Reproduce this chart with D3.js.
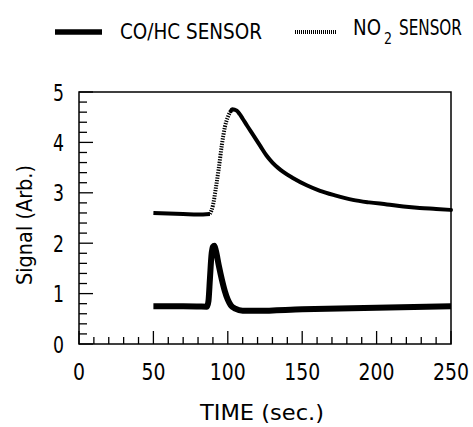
<!DOCTYPE html>
<html><head><meta charset="utf-8">
<script src="https://cdn.jsdelivr.net/npm/d3@7"></script>
<style>
body{margin:0;background:#fff;}
text{font-family:"DejaVu Sans Condensed","DejaVu Sans",sans-serif;font-stretch:condensed;fill:#000;}
</style></head>
<body><svg id="c" width="473" height="427"></svg>
<script>
const xTicks = [0, 50, 100, 150, 200, 250];
const yTicks = [0, 1, 2, 3, 4, 5];
const coHcTime  = [50, 60, 70, 80, 86, 87, 88, 89, 90, 91, 92, 94, 96, 98, 100, 102, 105, 110, 120, 150, 200, 250];
const coHcValue = [0.75, 0.75, 0.75, 0.745, 0.74, 0.85, 1.3, 1.75, 1.93, 1.95, 1.85, 1.55, 1.28, 1.05, 0.88, 0.77, 0.7, 0.66, 0.66, 0.69, 0.72, 0.75];
const no2BaseTime  = [50, 60, 70, 80, 88];
const no2BaseValue = [2.6, 2.59, 2.58, 2.57, 2.58];
const no2RiseTime  = [88, 90, 92, 94, 96, 98, 100, 102, 104];
const no2RiseValue = [2.58, 2.75, 3.1, 3.5, 3.95, 4.3, 4.5, 4.62, 4.66];
const no2DecayTime  = [102, 103, 106, 108, 110, 113, 117, 122, 126, 130, 134, 137, 144, 153, 162, 172, 184, 195, 207, 218, 229, 240, 250];
const no2DecayValue = [4.62, 4.66, 4.63, 4.56, 4.47, 4.33, 4.15, 3.92, 3.74, 3.6, 3.49, 3.42, 3.29, 3.15, 3.04, 2.95, 2.86, 2.81, 2.77, 2.73, 2.70, 2.68, 2.66];

const svg = d3.select("#c");
const L = 79, R = 451, T = 92, B = 344;
const x = d3.scaleLinear().domain([0, 250]).range([L, R]);
const y = d3.scaleLinear().domain([0, 5]).range([B, T]);

// frame
svg.append("rect").attr("x", L).attr("y", T).attr("width", R - L).attr("height", B - T)
  .attr("fill", "none").attr("stroke", "#000").attr("stroke-width", 1.5);

// ticks (inward), drawn from the scales
const xMinor = d3.range(0, 251, 10);
const yMinor = d3.range(0, 26).map(i => i * 0.2);
const tg = svg.append("g").attr("stroke", "#000").attr("stroke-width", 1.3);
tg.selectAll(".xt").data(xMinor).join("line")
  .attr("x1", d => x(d)).attr("x2", d => x(d))
  .attr("y1", B).attr("y2", d => B - (d % 50 === 0 ? 13 : 7));
tg.selectAll(".yt").data(yMinor).join("line")
  .attr("y1", d => y(d)).attr("y2", d => y(d))
  .attr("x1", L).attr("x2", d => L + (Math.abs(d - Math.round(d)) < 1e-6 ? 14 : 8));

svg.selectAll(".xl").data(xTicks).join("text")
  .attr("x", d => x(d)).attr("y", 380).attr("text-anchor", "middle").attr("font-size", 23)
  .attr("textLength", d => 12 * String(d).length).attr("lengthAdjust", "spacingAndGlyphs")
  .text(d3.format("d"));
svg.selectAll(".yl").data(yTicks).join("text")
  .attr("x", 64).attr("y", d => y(d) + 8.5).attr("text-anchor", "end").attr("font-size", 23)
  .attr("textLength", 11).attr("lengthAdjust", "spacingAndGlyphs")
  .text(d3.format("d"));

const line = d3.line().x(d => x(d[0])).y(d => y(d[1])).curve(d3.curveMonotoneX);
const zip = (a, b) => a.map((v, i) => [v, b[i]]);

svg.append("path").datum(zip(no2BaseTime, no2BaseValue)).attr("d", line)
  .attr("fill", "none").attr("stroke", "#000").attr("stroke-width", 4);
svg.append("path").datum(zip(no2RiseTime, no2RiseValue)).attr("d", line)
  .attr("fill", "none").attr("stroke", "#000").attr("stroke-width", 4).attr("stroke-dasharray", "1.3,1.3");
svg.append("path").datum(zip(no2DecayTime, no2DecayValue)).attr("d", line)
  .attr("fill", "none").attr("stroke", "#000").attr("stroke-width", 4).attr("stroke-linecap", "round");
svg.append("path").datum(zip(coHcTime, coHcValue)).attr("d", line)
  .attr("fill", "none").attr("stroke", "#000").attr("stroke-width", 6).attr("stroke-linejoin", "round");

// legend
svg.append("line").attr("x1", 55).attr("x2", 102).attr("y1", 32).attr("y2", 32)
  .attr("stroke", "#000").attr("stroke-width", 5.5);
svg.append("text").attr("x", 120).attr("y", 38.5).attr("font-size", 22)
  .attr("textLength", 142).attr("lengthAdjust", "spacingAndGlyphs").text("CO/HC SENSOR");
svg.append("line").attr("x1", 295).attr("x2", 337).attr("y1", 32).attr("y2", 32)
  .attr("stroke", "#000").attr("stroke-width", 4).attr("stroke-dasharray", "1,1");
svg.append("text").attr("x", 353).attr("y", 35).attr("font-size", 22)
  .attr("textLength", 28).attr("lengthAdjust", "spacingAndGlyphs").text("NO");
svg.append("text").attr("x", 384).attr("y", 44).attr("font-size", 16)
  .attr("textLength", 8).attr("lengthAdjust", "spacingAndGlyphs").text("2");
svg.append("text").attr("transform", "translate(399,35) scale(0.77,1)").attr("font-size", 22)
  .text("SENSOR");

// axis titles
svg.append("text").attr("x", 262).attr("y", 420).attr("text-anchor", "middle")
  .attr("font-size", 21).attr("textLength", 124).attr("lengthAdjust", "spacingAndGlyphs").text("TIME (sec.)");
svg.append("text").attr("transform", "translate(32,225) rotate(-90)").attr("text-anchor", "middle")
  .attr("font-size", 21).attr("textLength", 120).attr("lengthAdjust", "spacingAndGlyphs").text("Signal (Arb.)");
</script></body></html>
